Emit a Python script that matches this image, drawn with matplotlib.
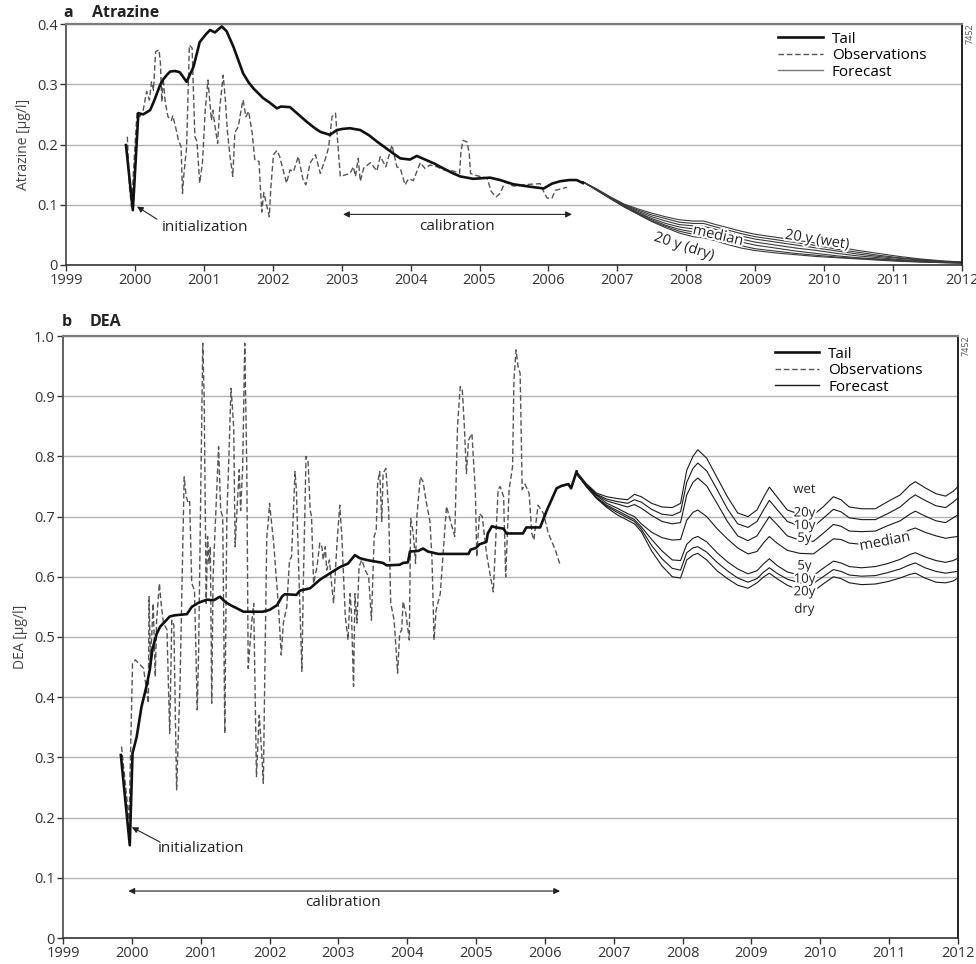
import matplotlib
matplotlib.use("Agg")
import matplotlib.pyplot as plt
from matplotlib.lines import Line2D
import matplotlib.patheffects as pe

plt.rcParams["font.family"] = ["Open Sans", "DejaVu Sans"]

# ---------------- Atrazine (panel a) ----------------
atz_tail_year = [1999.87, 1999.97, 2000.05, 2000.12, 2000.22, 2000.27, 2000.32, 2000.37, 2000.41,
                 2000.46, 2000.51, 2000.58, 2000.65, 2000.75, 2000.85, 2000.94, 2001.03, 2001.09,
                 2001.16, 2001.26, 2001.33, 2001.43, 2001.50, 2001.57, 2001.65, 2001.72, 2001.86,
                 2001.95, 2002.06, 2002.12, 2002.25, 2002.37, 2002.49, 2002.60, 2002.69, 2002.83,
                 2002.93, 2003.02, 2003.12, 2003.27, 2003.40, 2003.51, 2003.63, 2003.75, 2003.85,
                 2003.99, 2004.09, 2004.23, 2004.35, 2004.43, 2004.60, 2004.72, 2004.91, 2005.15,
                 2005.30, 2005.49, 2005.73, 2005.93, 2006.05, 2006.17, 2006.30, 2006.41, 2006.50]
atz_tail_val = [0.199, 0.091, 0.252, 0.250, 0.257, 0.270, 0.285, 0.300, 0.308,
                0.315, 0.321, 0.322, 0.320, 0.304, 0.329, 0.370, 0.383, 0.390,
                0.386, 0.396, 0.388, 0.362, 0.340, 0.318, 0.303, 0.293, 0.277,
                0.270, 0.260, 0.263, 0.262, 0.250, 0.238, 0.228, 0.221, 0.216,
                0.224, 0.226, 0.227, 0.224, 0.215, 0.205, 0.195, 0.185, 0.177,
                0.175, 0.181, 0.174, 0.168, 0.163, 0.153, 0.147, 0.143, 0.145,
                0.141, 0.134, 0.130, 0.127, 0.135, 0.139, 0.141, 0.141, 0.136]

atz_obs_year = [1999.89, 1999.92, 1999.95, 2000.00, 2000.03, 2000.07, 2000.12, 2000.17, 2000.21,
                2000.24, 2000.27, 2000.30, 2000.35, 2000.37, 2000.39, 2000.41, 2000.44, 2000.48,
                2000.53, 2000.55, 2000.61, 2000.63, 2000.67, 2000.69, 2000.71, 2000.75, 2000.79,
                2000.83, 2000.84, 2000.87, 2000.90, 2000.94, 2000.98, 2001.02, 2001.06, 2001.08,
                2001.11, 2001.13, 2001.17, 2001.20, 2001.23, 2001.28, 2001.31, 2001.34, 2001.38,
                2001.42, 2001.45, 2001.50, 2001.55, 2001.57, 2001.61, 2001.65, 2001.70, 2001.74,
                2001.80, 2001.84, 2001.87, 2001.90, 2001.95, 2001.97, 2002.01, 2002.06, 2002.10,
                2002.20, 2002.25, 2002.30, 2002.37, 2002.44, 2002.48, 2002.54, 2002.62, 2002.69,
                2002.76, 2002.81, 2002.86, 2002.91, 2002.98, 2003.12, 2003.17, 2003.20, 2003.24,
                2003.27, 2003.32, 2003.42, 2003.51, 2003.56, 2003.64, 2003.73, 2003.80, 2003.85,
                2003.92, 2003.97, 2004.04, 2004.14, 2004.21, 2004.28, 2004.38, 2004.48, 2004.62,
                2004.71, 2004.73, 2004.76, 2004.82, 2004.85, 2004.87, 2004.97, 2005.11, 2005.17,
                2005.24, 2005.30, 2005.37, 2005.49, 2005.73, 2005.88, 2005.93, 2005.98, 2006.05,
                2006.10, 2006.27]
atz_obs_val = [0.213, 0.130, 0.097, 0.196, 0.252, 0.246, 0.257, 0.288, 0.274,
               0.304, 0.290, 0.354, 0.357, 0.335, 0.271, 0.310, 0.270, 0.246,
               0.240, 0.248, 0.219, 0.208, 0.196, 0.119, 0.150, 0.196, 0.365,
               0.360, 0.320, 0.213, 0.205, 0.136, 0.170, 0.257, 0.307, 0.280,
               0.240, 0.257, 0.224, 0.202, 0.260, 0.315, 0.278, 0.224, 0.180,
               0.147, 0.220, 0.230, 0.263, 0.274, 0.246, 0.255, 0.220, 0.174,
               0.172, 0.088, 0.120, 0.105, 0.080, 0.125, 0.183, 0.190, 0.180,
               0.136, 0.158, 0.155, 0.180, 0.141, 0.133, 0.169, 0.183, 0.152,
               0.175, 0.195, 0.246, 0.252, 0.147, 0.152, 0.163, 0.147, 0.177,
               0.139, 0.161, 0.170, 0.156, 0.180, 0.163, 0.199, 0.163, 0.160,
               0.133, 0.143, 0.140, 0.170, 0.160, 0.166, 0.163, 0.158, 0.156,
               0.152, 0.188, 0.207, 0.204, 0.185, 0.152, 0.148, 0.144, 0.122,
               0.113, 0.119, 0.138, 0.131, 0.134, 0.135, 0.122, 0.111, 0.111,
               0.124, 0.129]

atz_fc_year = [2006.50, 2006.70, 2006.90, 2007.10, 2007.30, 2007.50, 2007.70, 2007.90, 2008.10,
               2008.25, 2008.40, 2008.60, 2008.80, 2009.00, 2009.30, 2009.60, 2009.90, 2010.20,
               2010.50, 2010.80, 2011.10, 2011.40, 2011.70, 2012.00]
atz_fc_wet20 = [0.138, 0.126, 0.113, 0.101, 0.093, 0.086, 0.080, 0.075, 0.073, 0.073, 0.068, 0.062,
                0.056, 0.051, 0.046, 0.041, 0.036, 0.030, 0.024, 0.019, 0.014, 0.010, 0.007, 0.005]
atz_fc_wet10 = [0.138, 0.126, 0.112, 0.100, 0.091, 0.083, 0.077, 0.071, 0.069, 0.069, 0.064, 0.058,
                0.052, 0.047, 0.042, 0.037, 0.032, 0.026, 0.021, 0.016, 0.012, 0.009, 0.006, 0.005]
atz_fc_wet5 = [0.138, 0.125, 0.112, 0.099, 0.089, 0.080, 0.073, 0.067, 0.065, 0.064, 0.060, 0.054,
               0.048, 0.043, 0.038, 0.033, 0.028, 0.023, 0.018, 0.014, 0.011, 0.008, 0.006, 0.004]
atz_fc_median = [0.138, 0.125, 0.111, 0.098, 0.087, 0.077, 0.069, 0.063, 0.060, 0.059, 0.055, 0.049,
                 0.043, 0.038, 0.033, 0.028, 0.024, 0.019, 0.015, 0.012, 0.009, 0.007, 0.005, 0.004]
atz_fc_dry5 = [0.138, 0.125, 0.111, 0.097, 0.086, 0.075, 0.066, 0.059, 0.055, 0.054, 0.050, 0.044,
               0.038, 0.033, 0.028, 0.023, 0.019, 0.015, 0.012, 0.010, 0.008, 0.006, 0.005, 0.004]
atz_fc_dry10 = [0.138, 0.124, 0.110, 0.097, 0.085, 0.073, 0.064, 0.056, 0.051, 0.049, 0.045, 0.039,
                0.032, 0.027, 0.023, 0.019, 0.016, 0.013, 0.011, 0.009, 0.007, 0.005, 0.004, 0.003]
atz_fc_dry20 = [0.138, 0.124, 0.110, 0.096, 0.084, 0.072, 0.062, 0.053, 0.047, 0.045, 0.041, 0.034,
                0.028, 0.024, 0.020, 0.017, 0.014, 0.012, 0.010, 0.008, 0.006, 0.005, 0.004, 0.003]

# ---------------- DEA (panel b) ----------------
dea_tail_year = [1999.84, 1999.97, 2000.01, 2000.07, 2000.14, 2000.21, 2000.26, 2000.30, 2000.36,
                 2000.41, 2000.46, 2000.55, 2000.62, 2000.80, 2000.87, 2000.97, 2001.09, 2001.19,
                 2001.28, 2001.35, 2001.43, 2001.52, 2001.62, 2001.90, 2002.00, 2002.11, 2002.18,
                 2002.22, 2002.39, 2002.44, 2002.59, 2002.73, 2002.88, 2003.02, 2003.14, 2003.24,
                 2003.31, 2003.41, 2003.65, 2003.70, 2003.89, 2003.94, 2004.01, 2004.04, 2004.16,
                 2004.23, 2004.30, 2004.45, 2004.89, 2004.92, 2005.00, 2005.05, 2005.15, 2005.17,
                 2005.23, 2005.29, 2005.40, 2005.44, 2005.68, 2005.73, 2005.93, 2006.03, 2006.17,
                 2006.24, 2006.34, 2006.38, 2006.46]
dea_tail_val = [0.304, 0.154, 0.307, 0.334, 0.384, 0.417, 0.445, 0.480, 0.505,
                0.517, 0.523, 0.534, 0.536, 0.538, 0.550, 0.557, 0.562, 0.561,
                0.567, 0.559, 0.553, 0.548, 0.542, 0.542, 0.545, 0.553, 0.567,
                0.571, 0.570, 0.577, 0.581, 0.595, 0.606, 0.616, 0.622, 0.636,
                0.631, 0.628, 0.623, 0.619, 0.620, 0.623, 0.624, 0.642, 0.643,
                0.647, 0.642, 0.638, 0.638, 0.645, 0.648, 0.654, 0.658, 0.672,
                0.684, 0.682, 0.680, 0.672, 0.672, 0.682, 0.682, 0.711, 0.747,
                0.751, 0.754, 0.747, 0.775]

dea_obs_year = [1999.85, 1999.96, 2000.01, 2000.05, 2000.17, 2000.24, 2000.25, 2000.27, 2000.31,
                2000.34, 2000.36, 2000.40, 2000.43, 2000.46, 2000.51, 2000.55, 2000.58, 2000.61,
                2000.65, 2000.70, 2000.76, 2000.79, 2000.82, 2000.84, 2000.87, 2000.91, 2000.95,
                2000.97, 2001.03, 2001.05, 2001.08, 2001.10, 2001.12, 2001.14, 2001.16, 2001.18,
                2001.22, 2001.26, 2001.29, 2001.32, 2001.35, 2001.38, 2001.41, 2001.44, 2001.46,
                2001.48, 2001.50, 2001.53, 2001.56, 2001.58, 2001.61, 2001.64, 2001.67, 2001.69,
                2001.74, 2001.77, 2001.81, 2001.85, 2001.88, 2001.91, 2001.93, 2001.96, 2001.98,
                2002.00, 2002.06, 2002.13, 2002.17, 2002.20, 2002.25, 2002.29, 2002.32, 2002.35,
                2002.37, 2002.39, 2002.43, 2002.47, 2002.49, 2002.53, 2002.56, 2002.59, 2002.61,
                2002.64, 2002.69, 2002.73, 2002.76, 2002.78, 2002.81, 2002.83, 2002.87, 2002.90,
                2002.93, 2002.98, 2003.02, 2003.05, 2003.10, 2003.14, 2003.17, 2003.19, 2003.22,
                2003.24, 2003.27, 2003.30, 2003.34, 2003.39, 2003.44, 2003.48, 2003.52, 2003.55,
                2003.57, 2003.60, 2003.63, 2003.65, 2003.69, 2003.73, 2003.76, 2003.81, 2003.86,
                2003.89, 2003.92, 2003.94, 2003.98, 2004.03, 2004.05, 2004.08, 2004.10, 2004.12,
                2004.14, 2004.19, 2004.23, 2004.28, 2004.33, 2004.36, 2004.39, 2004.42, 2004.48,
                2004.57, 2004.69, 2004.73, 2004.77, 2004.80, 2004.83, 2004.86, 2004.89, 2004.94,
                2004.99, 2005.01, 2005.05, 2005.09, 2005.15, 2005.20, 2005.25, 2005.32, 2005.35,
                2005.40, 2005.43, 2005.48, 2005.53, 2005.55, 2005.58, 2005.61, 2005.64, 2005.67,
                2005.71, 2005.77, 2005.81, 2005.84, 2005.90, 2005.98, 2006.05, 2006.15, 2006.22]
dea_obs_val = [0.318, 0.196, 0.456, 0.462, 0.448, 0.390, 0.567, 0.456, 0.556,
               0.434, 0.528, 0.589, 0.550, 0.523, 0.512, 0.340, 0.528, 0.520,
               0.246, 0.423, 0.766, 0.733, 0.722, 0.725, 0.589, 0.578, 0.379,
               0.478, 0.988, 0.899, 0.556, 0.667, 0.622, 0.650, 0.390, 0.600,
               0.706, 0.816, 0.710, 0.700, 0.340, 0.700, 0.800, 0.913, 0.883,
               0.845, 0.650, 0.716, 0.778, 0.710, 0.783, 0.988, 0.778, 0.448,
               0.523, 0.556, 0.268, 0.370, 0.320, 0.257, 0.428, 0.667, 0.689,
               0.722, 0.656, 0.550, 0.470, 0.523, 0.550, 0.628, 0.633, 0.717,
               0.775, 0.744, 0.589, 0.443, 0.584, 0.800, 0.791, 0.711, 0.700,
               0.589, 0.617, 0.656, 0.650, 0.628, 0.650, 0.611, 0.628, 0.589,
               0.556, 0.656, 0.719, 0.667, 0.534, 0.495, 0.572, 0.539, 0.418,
               0.572, 0.523, 0.617, 0.628, 0.611, 0.600, 0.528, 0.667, 0.678,
               0.755, 0.775, 0.692, 0.772, 0.780, 0.711, 0.556, 0.528, 0.440,
               0.506, 0.512, 0.559, 0.539, 0.495, 0.697, 0.678, 0.656, 0.622,
               0.700, 0.766, 0.758, 0.722, 0.692, 0.628, 0.495, 0.545, 0.572,
               0.717, 0.667, 0.849, 0.916, 0.910, 0.849, 0.772, 0.827, 0.838,
               0.740, 0.633, 0.705, 0.700, 0.640, 0.606, 0.575, 0.745, 0.750,
               0.733, 0.600, 0.745, 0.783, 0.927, 0.977, 0.949, 0.938, 0.745,
               0.754, 0.739, 0.672, 0.661, 0.719, 0.705, 0.672, 0.645, 0.620]

dea_fc_year = [2006.46, 2006.60, 2006.75, 2006.90, 2007.05, 2007.20, 2007.30, 2007.40, 2007.55,
               2007.70, 2007.85, 2007.97, 2008.06, 2008.15, 2008.22, 2008.35, 2008.50, 2008.65,
               2008.80, 2008.95, 2009.08, 2009.18, 2009.26, 2009.37, 2009.52, 2009.70, 2009.90,
               2010.04, 2010.19, 2010.30, 2010.42, 2010.60, 2010.80, 2010.98, 2011.16, 2011.30,
               2011.38, 2011.52, 2011.68, 2011.82, 2011.93, 2012.00]
dea_fc_wet20 = [0.775, 0.755, 0.739, 0.733, 0.730, 0.728, 0.737, 0.733, 0.722,
                0.716, 0.715, 0.722, 0.777, 0.800, 0.811, 0.797, 0.765, 0.733,
                0.706, 0.700, 0.711, 0.733, 0.749, 0.733, 0.711, 0.704, 0.703,
                0.716, 0.733, 0.728, 0.716, 0.713, 0.713, 0.725, 0.736, 0.752,
                0.758, 0.748, 0.738, 0.734, 0.742, 0.750]
dea_fc_wet10 = [0.773, 0.753, 0.737, 0.729, 0.725, 0.722, 0.728, 0.724, 0.712,
                0.704, 0.702, 0.708, 0.757, 0.780, 0.789, 0.776, 0.745, 0.713,
                0.688, 0.682, 0.692, 0.712, 0.727, 0.712, 0.692, 0.684, 0.683,
                0.697, 0.712, 0.708, 0.698, 0.695, 0.695, 0.705, 0.716, 0.730,
                0.736, 0.727, 0.718, 0.715, 0.724, 0.731]
dea_fc_wet5 = [0.771, 0.752, 0.736, 0.726, 0.721, 0.716, 0.720, 0.714, 0.702,
               0.692, 0.688, 0.690, 0.736, 0.757, 0.764, 0.751, 0.722, 0.692,
               0.668, 0.660, 0.668, 0.686, 0.700, 0.687, 0.668, 0.661, 0.659,
               0.672, 0.687, 0.684, 0.676, 0.675, 0.676, 0.685, 0.693, 0.704,
               0.709, 0.701, 0.693, 0.690, 0.698, 0.703]
dea_fc_median = [0.770, 0.752, 0.735, 0.722, 0.714, 0.705, 0.700, 0.688, 0.674,
                 0.665, 0.661, 0.662, 0.694, 0.707, 0.711, 0.700, 0.680, 0.663,
                 0.648, 0.638, 0.642, 0.657, 0.667, 0.656, 0.644, 0.639, 0.638,
                 0.650, 0.663, 0.662, 0.656, 0.654, 0.656, 0.662, 0.670, 0.678,
                 0.681, 0.674, 0.668, 0.664, 0.666, 0.667]
dea_fc_dry5 = [0.771, 0.751, 0.732, 0.719, 0.710, 0.701, 0.695, 0.683, 0.662,
               0.643, 0.628, 0.627, 0.654, 0.664, 0.667, 0.658, 0.640, 0.625,
               0.613, 0.605, 0.610, 0.622, 0.630, 0.619, 0.608, 0.603, 0.602,
               0.614, 0.626, 0.623, 0.617, 0.615, 0.617, 0.622, 0.629, 0.637,
               0.640, 0.633, 0.627, 0.624, 0.627, 0.631]
dea_fc_dry10 = [0.771, 0.750, 0.731, 0.717, 0.707, 0.698, 0.692, 0.679, 0.652,
                0.630, 0.614, 0.611, 0.640, 0.648, 0.650, 0.641, 0.624, 0.610,
                0.598, 0.591, 0.597, 0.608, 0.615, 0.606, 0.596, 0.590, 0.589,
                0.600, 0.612, 0.609, 0.603, 0.601, 0.602, 0.607, 0.613, 0.620,
                0.623, 0.615, 0.609, 0.606, 0.608, 0.609]
dea_fc_dry20 = [0.772, 0.750, 0.730, 0.715, 0.703, 0.694, 0.688, 0.675, 0.643,
                0.618, 0.600, 0.598, 0.628, 0.636, 0.639, 0.628, 0.610, 0.597,
                0.586, 0.581, 0.590, 0.600, 0.606, 0.597, 0.586, 0.578, 0.576,
                0.588, 0.600, 0.597, 0.590, 0.587, 0.588, 0.592, 0.598, 0.604,
                0.606, 0.598, 0.591, 0.590, 0.593, 0.598]

years = list(range(1999, 2013))
atz_yticks = [0, 0.1, 0.2, 0.3, 0.4]
atz_ylabels = ["0", "0.1", "0.2", "0.3", "0.4"]
dea_yticks = [0, 0.1, 0.2, 0.3, 0.4, 0.5, 0.6, 0.7, 0.8, 0.9, 1.0]
dea_ylabels = ["0", "0.1", "0.2", "0.3", "0.4", "0.5", "0.6", "0.7", "0.8", "0.9", "1.0"]
legend_labels = ["Tail", "Observations", "Forecast"]

TXT = "#222222"
TAIL_KW = dict(color="#111111", lw=1.9, solid_joinstyle="round")
OBS_KW = dict(color="#555555", lw=1.0, linestyle=(0, (4.0, 2.0)))
halo = [pe.withStroke(linewidth=3.0, foreground="white")]

fig = plt.figure(figsize=(9.76, 9.64), dpi=100)
ax_a = fig.add_axes([66 / 976, 1 - 265 / 964, 896 / 976, 241 / 964])
ax_b = fig.add_axes([63 / 976, 1 - 938 / 964, 895 / 976, 602 / 964])


def style_axes(ax, ymax, yticks, ylabels, ylabel):
    ax.set_xlim(1999, 2012)
    ax.set_ylim(0, ymax)
    ax.set_xticks(years)
    ax.set_xticklabels([str(y) for y in years])
    ax.set_yticks(yticks)
    ax.set_yticklabels(ylabels)
    ax.tick_params(axis="both", direction="out", length=4, width=1, color="#333333",
                   labelsize=10.5, labelcolor="#333333", pad=2)
    ax.grid(axis="y", color="#b3b3b3", lw=1.0)
    ax.set_axisbelow(True)
    ax.spines["top"].set_color("#7a7a7a")
    ax.spines["top"].set_linewidth(1.6)
    ax.spines["left"].set_color("#555555")
    ax.spines["left"].set_linewidth(1.3)
    ax.spines["bottom"].set_color("#333333")
    ax.spines["bottom"].set_linewidth(1.2)
    ax.spines["right"].set_color("#222222")
    ax.spines["right"].set_linewidth(1.4)
    ax.set_ylabel(ylabel, fontsize=10, color="#444444", labelpad=4)


def add_legend(ax, fc_color, anchor_y):
    handles = [Line2D([], [], **TAIL_KW),
               Line2D([], [], **OBS_KW),
               Line2D([], [], color=fc_color, lw=1.0)]
    ax.legend(handles, legend_labels, loc="upper left", bbox_to_anchor=(0.79, anchor_y),
              frameon=False, fontsize=11, handlelength=2.9, handletextpad=0.6,
              labelspacing=0.1, borderaxespad=0, borderpad=0.3)


# ---- panel a ----
style_axes(ax_a, 0.4, atz_yticks, atz_ylabels, "Atrazine [µg/l]")
FC_A = dict(color="#3a3a3a", lw=0.8)
for series in (atz_fc_wet20, atz_fc_wet10, atz_fc_wet5, atz_fc_median,
               atz_fc_dry5, atz_fc_dry10, atz_fc_dry20):
    ax_a.plot(atz_fc_year, series, **FC_A)
ax_a.plot(atz_obs_year, atz_obs_val, **OBS_KW)
ax_a.plot(atz_tail_year, atz_tail_val, **TAIL_KW)

ax_a.annotate("", xy=(2000.03, 0.097), xytext=(2000.32, 0.076),
              arrowprops=dict(arrowstyle="-|>", color=TXT, lw=0.8, mutation_scale=9,
                              shrinkA=0, shrinkB=0))
ax_a.text(2000.39, 0.063, "initialization", fontsize=11, color=TXT, ha="left", va="center")
ax_a.annotate("", xy=(2003.02, 0.084), xytext=(2006.34, 0.084),
              arrowprops=dict(arrowstyle="<|-|>", color=TXT, lw=0.8, mutation_scale=9,
                              shrinkA=0, shrinkB=0))
ax_a.text(2004.67, 0.064, "calibration", fontsize=11, color=TXT, ha="center", va="center")
ax_a.text(2008.46, 0.048, "median", fontsize=10.5, color=TXT, ha="center", va="center",
          rotation=-13, rotation_mode="anchor", path_effects=halo)
ax_a.text(2009.90, 0.041, "20 y (wet)", fontsize=10.5, color=TXT, ha="center", va="center",
          rotation=-9, rotation_mode="anchor", path_effects=halo)
ax_a.text(2007.97, 0.030, "20 y (dry)", fontsize=10.5, color=TXT, ha="center", va="center",
          rotation=-18, rotation_mode="anchor", path_effects=halo)
add_legend(ax_a, "#777777", 0.987)

# ---- panel b ----
style_axes(ax_b, 1.0, dea_yticks, dea_ylabels, "DEA [µg/l]")
FC_B = dict(color="#1a1a1a", lw=0.8)
for series in (dea_fc_wet20, dea_fc_wet10, dea_fc_wet5, dea_fc_median,
               dea_fc_dry5, dea_fc_dry10, dea_fc_dry20):
    ax_b.plot(dea_fc_year, series, **FC_B)
ax_b.plot(dea_obs_year, dea_obs_val, **OBS_KW)
ax_b.plot(dea_tail_year, dea_tail_val, **TAIL_KW)

ax_b.annotate("", xy=(2000.0, 0.184), xytext=(2000.40, 0.160),
              arrowprops=dict(arrowstyle="-|>", color=TXT, lw=0.8, mutation_scale=9,
                              shrinkA=0, shrinkB=0))
ax_b.text(2000.38, 0.149, "initialization", fontsize=11, color=TXT, ha="left", va="center")
ax_b.annotate("", xy=(1999.95, 0.078), xytext=(2006.22, 0.078),
              arrowprops=dict(arrowstyle="<|-|>", color=TXT, lw=0.8, mutation_scale=9,
                              shrinkA=0, shrinkB=0))
ax_b.text(2003.07, 0.059, "calibration", fontsize=11, color=TXT, ha="center", va="center")

fc_labels_b = [("wet", 0.745), ("20y", 0.706), ("10y", 0.685), ("5y", 0.664),
               ("5y", 0.618), ("10y", 0.596), ("20y", 0.575), ("dry", 0.546)]
for txt, yv in fc_labels_b:
    ax_b.text(2009.77, yv, txt, fontsize=9.5, color=TXT, ha="center", va="center",
              path_effects=halo)
ax_b.text(2010.94, 0.658, "median", fontsize=10.5, color=TXT, ha="center", va="center",
          rotation=11, rotation_mode="anchor", path_effects=halo)
add_legend(ax_b, "#1a1a1a", 0.99)

# ---- panel titles and figure id ----
fig.text(63 / 976, 1 - 13 / 964, "a", fontsize=11.5, fontweight="bold", color=TXT, va="center")
fig.text(92 / 976, 1 - 13 / 964, "Atrazine", fontsize=11.5, fontweight="bold", color=TXT, va="center")
fig.text(62 / 976, 1 - 322 / 964, "b", fontsize=11.5, fontweight="bold", color=TXT, va="center")
fig.text(90 / 976, 1 - 322 / 964, "DEA", fontsize=11.5, fontweight="bold", color=TXT, va="center")
fig.text(970 / 976, 1 - 34 / 964, "7452", fontsize=6.5, color="#555555", rotation=90,
         ha="center", va="center")
fig.text(966 / 976, 1 - 346 / 964, "7452", fontsize=6.5, color="#555555", rotation=90,
         ha="center", va="center")

fig.savefig("out.png", dpi=100)
